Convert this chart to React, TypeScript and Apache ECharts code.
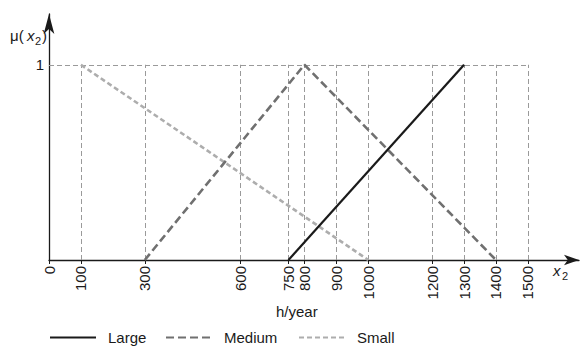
import React, { useEffect, useRef } from "react";
import * as echarts from "echarts";

// membership functions for x2 (h/year)
const largeX = [750, 1300];
const largeY = [0, 1];
const mediumX = [300, 800, 1400];
const mediumY = [0, 1, 0];
const smallX = [100, 1000];
const smallY = [1, 0];

const tickValues = [0, 100, 300, 600, 750, 800, 900, 1000, 1200, 1300, 1400, 1500];
const guideValues = [100, 300, 600, 750, 800, 900, 1000, 1200, 1300, 1400, 1500];
const seriesNames = ["Large", "Medium", "Small"];
const legendLefts = [49, 165, 298];

const FONT = "'Liberation Sans', Arial, sans-serif";

const pairs = (xs: number[], ys: number[]) => xs.map((x, i) => [x, ys[i]]);

export default function App() {
  const ref = useRef<HTMLDivElement>(null);

  useEffect(() => {
    if (!ref.current) return;
    const chart = echarts.init(ref.current, null, { renderer: "svg" });

    const guideLines: any[] = guideValues.map((v) => [
      { coord: [v, 0] },
      { coord: [v, 1] },
    ]);
    guideLines.push([{ coord: [0, 1] }, { coord: [1500, 1] }]);

    // one legend block per series so each entry sits at its own offset
    const legends = seriesNames.map((name, i) => ({
      left: legendLefts[i],
      top: 330,
      padding: 0,
      itemWidth: 46,
      itemHeight: 14,
      itemStyle: { opacity: 0, borderWidth: 0 },
      textStyle: { fontSize: 15, color: "#1a1a1a", fontFamily: FONT, padding: [0, 0, 0, 7] },
      data: [name],
    }));

    chart.setOption({
      animation: false,
      backgroundColor: "#ffffff",
      textStyle: { fontFamily: FONT },
      grid: { left: 49, top: 14, width: 530, height: 246, containLabel: false },
      xAxis: {
        type: "value",
        min: 0,
        max: 1660,
        splitLine: { show: false },
        axisLine: {
          show: true,
          lineStyle: { color: "#1a1a1a", width: 1.3 },
          symbol: ["none", "arrow"],
          symbolSize: [8, 15],
        },
        axisTick: {
          show: true,
          customValues: tickValues,
          length: 4,
          lineStyle: { color: "#1a1a1a", width: 1 },
        },
        axisLabel: {
          customValues: tickValues,
          formatter: (v: number) => String(v),
          rotate: 90,
          margin: 6,
          fontSize: 15,
          color: "#1a1a1a",
          fontFamily: FONT,
        },
      },
      yAxis: {
        type: "value",
        min: 0,
        max: 1.26,
        splitLine: { show: false },
        axisLine: {
          show: true,
          lineStyle: { color: "#1a1a1a", width: 1.3 },
          symbol: ["none", "arrow"],
          symbolSize: [8, 20],
        },
        axisTick: { show: false },
        axisLabel: {
          customValues: [1],
          margin: 5,
          fontSize: 15,
          color: "#1a1a1a",
          fontFamily: FONT,
        },
      },
      legend: legends,
      series: [
        {
          name: "Large",
          type: "line",
          data: pairs(largeX, largeY),
          symbol: "none",
          z: 5,
          lineStyle: { color: "#1a1a1a", width: 2.2 },
          itemStyle: { color: "#1a1a1a" },
          markLine: {
            silent: true,
            symbol: ["none", "none"],
            label: { show: false },
            lineStyle: { color: "#9a9a9a", width: 1, type: [5, 3] },
            data: guideLines,
            z: 1,
          },
        },
        {
          name: "Medium",
          type: "line",
          data: pairs(mediumX, mediumY),
          symbol: "none",
          z: 4,
          lineStyle: { color: "#707070", width: 2.6, type: [8, 4] },
          itemStyle: { color: "#707070" },
        },
        {
          name: "Small",
          type: "line",
          data: pairs(smallX, smallY),
          symbol: "none",
          z: 3,
          lineStyle: { color: "#adadad", width: 2.6, type: [5, 3] },
          itemStyle: { color: "#adadad" },
        },
      ],
      graphic: [
        {
          type: "group",
          left: 10,
          top: 28,
          children: [
            { type: "text", x: 0, y: 0, style: { text: "μ(", fontSize: 15, fontFamily: FONT, fill: "#1a1a1a" } },
            { type: "text", x: 17, y: 0, style: { text: "x", fontSize: 15, fontStyle: "italic", fontFamily: FONT, fill: "#1a1a1a" } },
            { type: "text", x: 25, y: 7, style: { text: "2", fontSize: 11, fontFamily: FONT, fill: "#1a1a1a" } },
            { type: "text", x: 32, y: 0, style: { text: ")", fontSize: 15, fontFamily: FONT, fill: "#1a1a1a" } },
          ],
        },
        {
          type: "group",
          left: 553,
          top: 263,
          children: [
            { type: "text", x: 0, y: 0, style: { text: "x", fontSize: 15, fontStyle: "italic", fontFamily: FONT, fill: "#1a1a1a" } },
            { type: "text", x: 9, y: 7, style: { text: "2", fontSize: 11, fontFamily: FONT, fill: "#1a1a1a" } },
          ],
        },
        {
          type: "text",
          left: 276,
          top: 304,
          style: { text: "h/year", fontSize: 15, fontFamily: FONT, fill: "#1a1a1a" },
        },
      ],
    });

    return () => chart.dispose();
  }, []);

  return (
    <div
      ref={ref}
      style={{ position: "fixed", left: 0, top: 0, width: 587, height: 349 }}
    />
  );
}
